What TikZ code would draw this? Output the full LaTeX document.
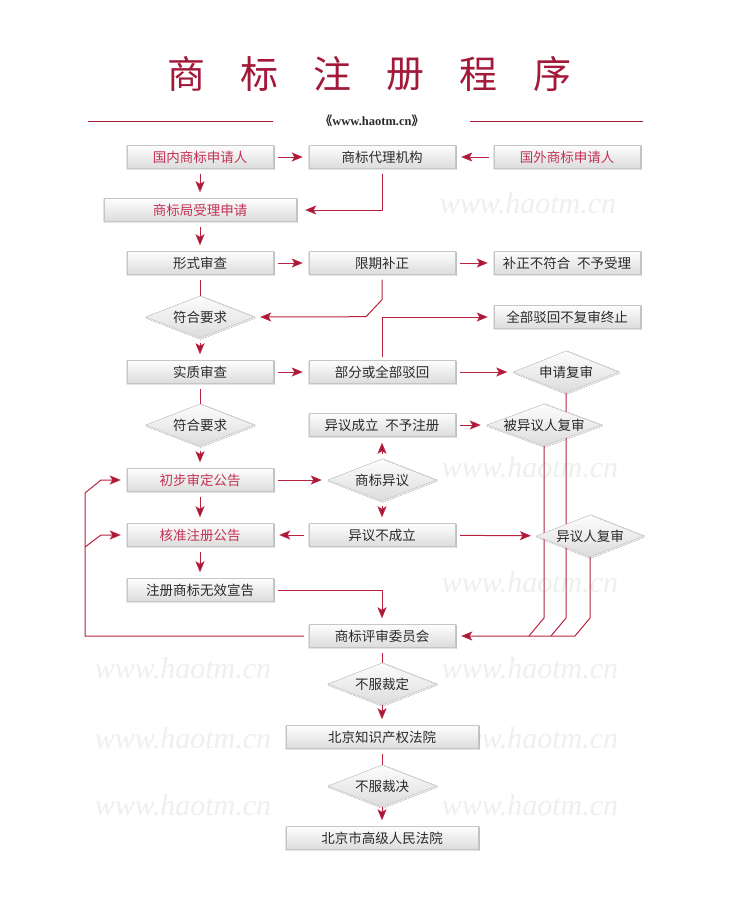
\documentclass[tikz,border=0pt]{standalone}
\usepackage{fontspec}
\setmainfont{Liberation Serif}
\newfontfamily\cjk{Noto Sans CJK SC}
\usetikzlibrary{positioning,shapes.geometric,arrows.meta,calc,backgrounds,shadows.blur}
\definecolor{tmred}{HTML}{A3193A}
\definecolor{tmline}{HTML}{B8223F}
\definecolor{tmtext}{HTML}{C33355}
\definecolor{tmink}{HTML}{2A2A2A}
\definecolor{tmedge}{HTML}{C6C6C6}
\definecolor{tmtop}{HTML}{FDFDFD}
\definecolor{tmbot}{HTML}{DCDCDC}
\definecolor{tmmark}{HTML}{EFEFEF}

\begin{document}
\begin{tikzpicture}[x=1pt,y=-1pt,
  box/.style={draw=tmedge,top color=tmtop,bottom color=tmbot,minimum height=23pt,inner sep=0pt,
    font=\cjk\fontsize{13.5}{16}\selectfont,text=tmink,
    blur shadow={shadow xshift=0.6pt,shadow yshift=-0.6pt,shadow blur radius=0.8pt,shadow opacity=15}},
  dia/.style={box,shape=diamond,minimum height=42pt},
  ln/.style={draw=tmline,line width=1pt,shorten <=5pt},
  arr/.style={ln,-{Stealth[length=11pt,width=9pt,inset=2.5pt,fill=tmred]},shorten >=6pt},
  wmark/.style={font=\itshape\fontsize{30}{32}\selectfont,text=tmmark}]
  \useasboundingbox (0,0) rectangle (730,900);

  % title
  \foreach \c [count=\i] in {商,标,注,册,程,序}
    {\node[font=\cjk\fontsize{38}{40}\selectfont,text=tmred,inner sep=0pt] (title\i) at (186+73.2*\i-73.2,74) {\c};}
  \node[font=\bfseries\fontsize{12.5}{14}\selectfont,text=tmink] (site) at (372,121) {{\cjk 《}www.haotm.cn{\cjk 》}};
  \draw[tmred,line width=0.9pt] (88,121) -- (273,121);
  \draw[tmred,line width=0.9pt] (470,121) -- (643,121);

  % boxes
  \foreach \n/\x/\y/\w/\c/\lab in {
    dom/200/157/146/tmtext/{国内商标申请人},
    agent/382/157/146/tmink/{商标代理机构},
    frn/567/157/146/tmtext/{国外商标申请人},
    office/200/210/192/tmtext/{商标局受理申请},
    formal/200/263/146/tmink/{形式审查},
    amend/382/263/146/tmink/{限期补正},
    refuse/567/263/146/tmink/{补正不符合\enspace 不予受理},
    stop/567/317/146/tmink/{全部驳回不复审终止},
    subst/200/372/146/tmink/{实质审查},
    partial/382/372/146/tmink/{部分或全部驳回},
    oppok/382/425/146/tmink/{异议成立\enspace 不予注册},
    prelim/200/480/146/tmtext/{初步审定公告},
    approve/200/535/146/tmtext/{核准注册公告},
    oppno/382/535/146/tmink/{异议不成立},
    invalid/200/590/146/tmink/{注册商标无效宣告},
    board/382/636/146/tmink/{商标评审委员会},
    ipcourt/382/737/192/tmink/{北京知识产权法院},
    highcourt/382/838/192/tmink/{北京市高级人民法院}}
    {\node[box,minimum width=\w pt,text=\c] (\n) at (\x,\y) {\lab};}

  % decisions
  \foreach \n/\x/\y/\w/\lab in {
    ok1/200/317/108/{符合要求},
    ok2/200/425/108/{符合要求},
    review/566/372/105/{申请复审},
    oppd/544/425/114/{被异议人复审},
    opp/382/480/108/{商标异议},
    oppr/590/536/107/{异议人复审},
    nosat1/382/684/108/{不服裁定},
    nosat2/382/786/108/{不服裁决}}
    {\node[dia,minimum width=\w pt] (\n) at (\x,\y) {\makebox[0pt]{\lab}};}

  \coordinate (jn) at (0,618);
  \coordinate (lpa) at (85,493);
  \coordinate (lpb) at (101,480);
  \coordinate (lpc) at (85,547);
  \coordinate (lpd) at (101,535);

  \begin{scope}[on background layer]
    \fill[white] (0,0) rectangle (730,900);
    \foreach \x/\y [count=\i] in {528/203,530/467,530/582,183/668,530/668,183/738,530/738,183/805,530/805}
      {\node[wmark] (wm\i) at (\x,\y) {www.haotm.cn};}

    % top rows
    \draw[arr] (dom) -- (agent);
    \draw[arr] (frn) -- (agent);
    \draw[arr] (dom) -- (office);
    \draw[arr,shorten >=9pt] (agent.south) |- (office.east);
    \draw[arr] (office) -- (formal);
    \draw[arr] (formal) -- (amend);
    \draw[arr] (amend) -- (refuse);
    \draw[ln] (formal) -- (ok1);
    \draw[arr] (amend.south) -- ($(amend.south)+(0,25)$) -- ($(amend.south)+(-16,42)$) -- (ok1.east);
    \draw[arr,shorten <=3pt] (partial.north) |- (stop.west);
    \draw[arr] (ok1) -- (subst);
    \draw[arr] (subst) -- (partial);
    \draw[arr] (partial) -- (review);
    \draw[ln] (subst) -- (ok2);
    \draw[arr] (ok2) -- (prelim);

    % opposition
    \draw[arr] (prelim) -- (opp);
    \draw[arr] (opp) -- (oppok);
    \draw[arr] (oppok) -- (oppd);
    \draw[arr] (opp) -- (oppno);
    \draw[arr] (oppno) -- (approve);
    \draw[arr] (oppno) -- (oppr);
    \draw[arr] (prelim) -- (approve);
    \draw[arr] (approve) -- (invalid);
    \draw[arr] (invalid.east) -| (board.north);

    % review lines
    \draw[ln,shorten <=0pt] (review.south) -- (review.south |- jn) -- ++(-15,18);
    \draw[ln,shorten <=0pt] (oppd.south) -- (oppd.south |- jn) -- ++(-15,18);
    \draw[arr,shorten <=0pt] (oppr.south) -- (oppr.south |- jn) -- ++(-15,18) -- (board.east);

    % back to announcements
    \draw[arr] (board.west) -| (lpa) -- (lpb) -- (prelim.west);
    \draw[arr,shorten <=0pt] (lpc) -- (lpd) -- (approve.west);

    % courts
    \draw[ln] (board) -- (nosat1);
    \draw[arr,shorten <=0pt] (nosat1) -- (ipcourt);
    \draw[ln] (ipcourt) -- (nosat2);
    \draw[arr,shorten <=0pt] (nosat2) -- (highcourt);
  \end{scope}
\end{tikzpicture}
\end{document}
